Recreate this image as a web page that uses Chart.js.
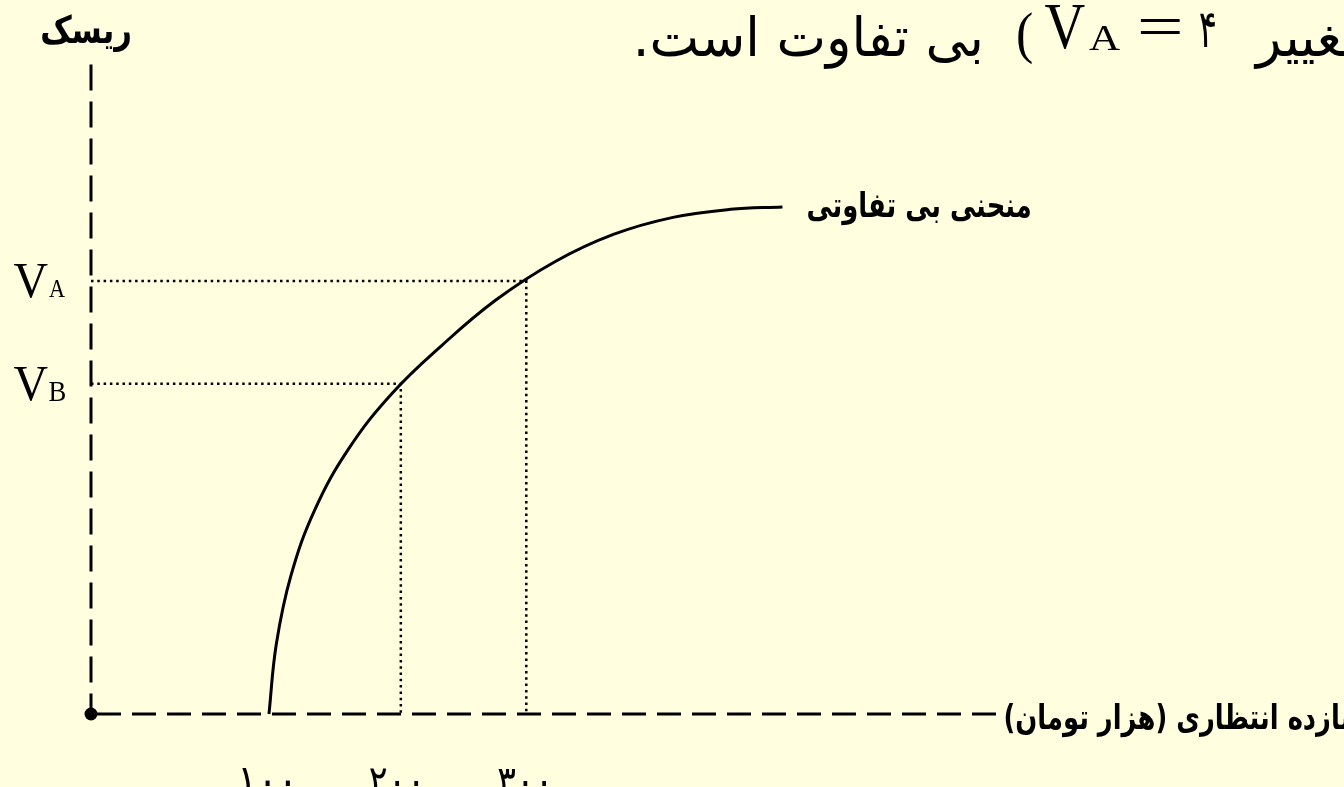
<!DOCTYPE html>
<html>
<head>
<meta charset="utf-8">
<script src="https://cdn.jsdelivr.net/npm/chart.js@4.4.1/dist/chart.umd.min.js"></script>
<style>
  html, body { margin: 0; padding: 0; background: #FFFFE0; overflow: hidden; }
  #wrap { width: 1344px; height: 787px; }
</style>
</head>
<body>
<div id="wrap"><canvas id="c" width="1344" height="787"></canvas></div>
<script>
// ---- data ----
const curveX = [99, 104.7, 116.1, 134.7, 161.2, 194.9, 234.3, 276.2, 322.0, 368.0, 414.6, 459.4, 500.1];
const curveY = [0, 0.643, 1.276, 1.884, 2.449, 2.959, 3.408, 3.824, 4.176, 4.430, 4.588, 4.662, 4.684];
const xTickValues = [100, 200, 300];
const xTickLabels = ['۱۰۰', '۲۰۰', '۳۰۰'];
const levelSubs = ['A', 'B'];
const levelX = [300, 202];
const levelY = [4, 3.05];
const xMin = -40, xMax = 670, yMin = 0, yMax = 6;
const yAxisTitle = 'ریسک';
const xAxisTitle = 'بازده انتظاری (هزار تومان)';
const curveLabel = 'منحنی بی تفاوتی';
const topTextEnd = 'بی تفاوت است.';
const topTextStart = 'تغییر';
const topNumber = '۴';

const BG = '#FFFFE0';
const INK = '#000000';

const datasets = [];
// indifference curve
datasets.push({
  data: curveX.map((x, i) => ({ x, y: curveY[i] })),
  borderColor: INK, borderWidth: 3, pointRadius: 0,
  tension: 0.4, fill: false, clip: false
});
// dotted guides
levelX.forEach((lx, i) => {
  datasets.push({
    data: [{ x: xMin, y: levelY[i] }, { x: lx, y: levelY[i] }, { x: lx, y: yMin }],
    borderColor: INK, borderWidth: 2.5, borderDash: [2.5, 3.8], pointRadius: 0,
    tension: 0, fill: false, clip: false
  });
});
// dashed axes
datasets.push({
  data: [{ x: xMin, y: yMax }, { x: xMin, y: yMin }],
  borderColor: INK, borderWidth: 3, borderDash: [26, 11], pointRadius: 0,
  tension: 0, fill: false, clip: false
});
datasets.push({
  data: [{ x: xMin, y: yMin }, { x: xMax, y: yMin }],
  borderColor: INK, borderWidth: 3, borderDash: [24, 11], borderDashOffset: -6, pointRadius: 0,
  tension: 0, fill: false, clip: false
});
// origin dot
datasets.push({
  type: 'scatter',
  data: [{ x: xMin, y: yMin }],
  pointRadius: 6.5, pointBackgroundColor: INK, pointBorderColor: INK, pointBorderWidth: 0,
  showLine: false, clip: false
});

const SERIF = "'Liberation Serif', 'DejaVu Serif', serif";
const ARABIC = "'DejaVu Sans', sans-serif";

// draw text so that its ink fills the given box (horizontal squeeze limited); returns {size, sx, baseline}
function drawBox(ctx, text, family, weight, dir, left, right, top, bottom, minSx) {
  minSx = minSx || 0.8;
  ctx.save();
  ctx.font = weight + ' 100px ' + family;
  ctx.direction = dir;
  ctx.textAlign = 'left';
  ctx.textBaseline = 'alphabetic';
  const m = ctx.measureText(text);
  const h = m.actualBoundingBoxAscent + m.actualBoundingBoxDescent;
  let size = 100 * (bottom - top) / h;
  let k = size / 100;
  const w = (m.actualBoundingBoxLeft + m.actualBoundingBoxRight) * k;
  let sx = (right - left) / w;
  if (sx < minSx) { size = size * sx / minSx; sx = minSx; k = size / 100; }
  const inkH = h * k;
  const topAdj = (top + bottom) / 2 - inkH / 2;
  const baseline = topAdj + m.actualBoundingBoxAscent * k;
  ctx.font = weight + ' ' + size + 'px ' + family;
  ctx.translate(left, 0);
  ctx.scale(sx, 1);
  ctx.fillStyle = INK;
  ctx.fillText(text, m.actualBoundingBoxLeft * k, baseline);
  ctx.restore();
  return { size, sx, baseline };
}
// draw text with given size & horizontal scale, ink-left at x
function drawScaled(ctx, text, family, weight, dir, left, baseline, size, sx) {
  ctx.save();
  ctx.font = weight + ' ' + size + 'px ' + family;
  ctx.direction = dir;
  ctx.textAlign = 'left';
  ctx.textBaseline = 'alphabetic';
  const m = ctx.measureText(text);
  ctx.translate(left, 0);
  ctx.scale(sx, 1);
  ctx.fillStyle = INK;
  ctx.fillText(text, m.actualBoundingBoxLeft, baseline);
  ctx.restore();
}

const bgPlugin = {
  id: 'bg',
  beforeDraw(chart) {
    const ctx = chart.ctx;
    ctx.save();
    ctx.fillStyle = BG;
    ctx.fillRect(0, 0, chart.width, chart.height);
    ctx.restore();
  }
};

const textPlugin = {
  id: 'texts',
  afterDraw(chart) {
    const ctx = chart.ctx;
    const xs = chart.scales.x, ys = chart.scales.y;

    // top sentence (runs off the right edge)
    const t = drawBox(ctx, topTextEnd, ARABIC, 'normal', 'rtl', 638, 980, 15, 70, 0.85);
    drawScaled(ctx, topTextStart, ARABIC, 'normal', 'rtl', 1253, t.baseline, t.size, t.sx);
    drawBox(ctx, topNumber, ARABIC, 'normal', 'rtl', 1200, 1215, 13, 47, 0.6);
    drawBox(ctx, '(', SERIF, 'normal', 'ltr', 1018, 1032, 12, 64, 0.6);
    drawBox(ctx, 'V', SERIF, 'normal', 'ltr', 1045, 1085, 5, 50, 0.85);
    drawBox(ctx, 'A', SERIF, 'normal', 'ltr', 1089, 1120, 27, 50, 0.85);
    drawBox(ctx, '=', SERIF, 'normal', 'ltr', 1140, 1180, 18, 33, 0.6);

    // y-axis title
    drawBox(ctx, yAxisTitle, ARABIC, 'bold', 'rtl', 42, 130, 14, 52, 0.75);

    // curve label
    const c = drawBox(ctx, curveLabel, ARABIC, 'bold', 'rtl', 808, 1030, 185, 232, 0.75);

    // x-axis title (runs off the right edge)
    drawScaled(ctx, xAxisTitle, ARABIC, 'bold', 'rtl', 1005, 729, c.size, c.sx);

    // V_A, V_B labels
    levelSubs.forEach((sub, i) => {
      const py = ys.getPixelForValue(levelY[i]);
      drawBox(ctx, 'V', SERIF, 'normal', 'ltr', 14, 48, py - 17, py + 17, 0.85);
      drawBox(ctx, sub, SERIF, 'normal', 'ltr', 49, 65, py - 2, py + 17, 0.85);
    });

    // x tick labels
    xTickValues.forEach((v, i) => {
      const px = xs.getPixelForValue(v) - 4;
      drawBox(ctx, xTickLabels[i], ARABIC, 'normal', 'rtl', px - 24, px + 24, 766, 797, 0.85);
    });
  }
};

new Chart(document.getElementById('c'), {
  type: 'line',
  data: { datasets },
  options: {
    responsive: false,
    animation: false,
    events: [],
    layout: { padding: { left: 91, right: 344, top: 64.5, bottom: 73 } },
    plugins: { legend: { display: false }, tooltip: { enabled: false }, title: { display: false } },
    scales: {
      x: { type: 'linear', min: xMin, max: xMax, display: false },
      y: { type: 'linear', min: yMin, max: yMax, display: false }
    }
  },
  plugins: [bgPlugin, textPlugin]
});
</script>
</body>
</html>
